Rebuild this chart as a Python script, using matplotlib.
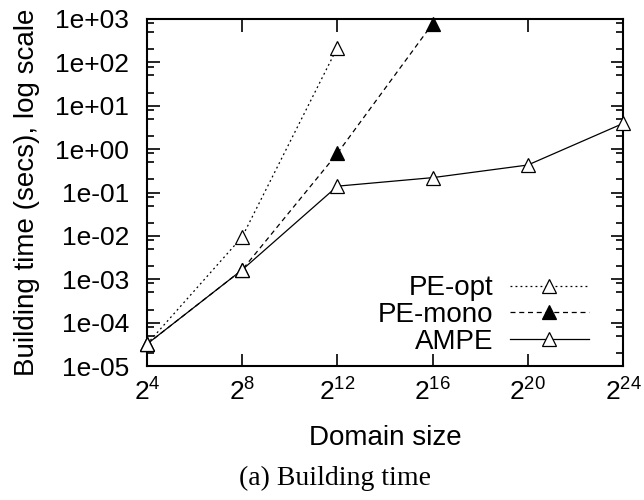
import matplotlib
matplotlib.use('Agg')
import matplotlib.pyplot as plt
from matplotlib.ticker import LogLocator, FixedLocator, FixedFormatter, NullFormatter

plt.rcParams['font.family'] = ['Liberation Sans', 'DejaVu Sans']
plt.rcParams['mathtext.default'] = 'regular'

# domain sizes (as powers of two) and building times in seconds
exp_opt = [4, 8, 12]
time_opt = [3.2e-5, 9.5e-3, 2.2e2]

exp_mono = [4, 8, 12, 16]
time_mono = [3.2e-5, 1.65e-3, 0.8, 780]

exp_ampe = [4, 8, 12, 16, 20, 24]
time_ampe = [3.2e-5, 1.65e-3, 0.14, 0.22, 0.43, 3.9]

xtick_exps = [4, 8, 12, 16, 20, 24]
ytick_labels = ['1e-05', '1e-04', '1e-03', '1e-02', '1e-01',
                '1e+00', '1e+01', '1e+02', '1e+03']

fig = plt.figure(figsize=(6.44, 5.0), dpi=100)
ax = fig.add_axes([147 / 644, 1 - 366 / 500, 476 / 644, 347 / 500])

ms = 10
common = dict(color='black', lw=0.9, marker='^', ms=ms, mec='black',
              mew=0.9, clip_on=False, zorder=3)
ax.plot([2 ** e for e in exp_opt], time_opt, linestyle=(0, (1.5, 2.5)),
        mfc='white', label='PE-opt', **common)
ax.plot([2 ** e for e in exp_mono], time_mono, linestyle=(0, (4, 3)),
        mfc='black', label='PE-mono', **common)
ax.plot([2 ** e for e in exp_ampe], time_ampe, linestyle='-',
        mfc='white', label='AMPE', **common)

ax.set_xscale('log', base=2)
ax.set_yscale('log')
ax.set_xlim(2 ** 4, 2 ** 24)
ax.set_ylim(1e-5, 1e3)

ax.xaxis.set_major_locator(FixedLocator([2 ** e for e in xtick_exps]))
ax.xaxis.set_major_formatter(FixedFormatter([f'$2^{{{e}}}$' for e in xtick_exps]))
ax.xaxis.set_minor_locator(FixedLocator([]))
ax.set_yticks([10.0 ** k for k in range(-5, 4)])
ax.set_yticklabels(ytick_labels)
ax.yaxis.set_minor_locator(LogLocator(base=10, subs=(2, 5, 8), numticks=20))
ax.yaxis.set_minor_formatter(NullFormatter())

ax.tick_params(which='both', direction='in', top=True, right=True,
               labelsize=19, width=1.2)
ax.tick_params(which='major', length=9)
ax.tick_params(which='minor', length=5)
ax.tick_params(axis='y', pad=13)
ax.tick_params(axis='x', pad=9)
for s in ax.spines.values():
    s.set_linewidth(1.5)

ax.set_xlabel('Domain size', fontsize=20, labelpad=14)
ax.set_ylabel('Building time (secs), log scale', fontsize=20, labelpad=11)

ax.legend(loc='lower right', frameon=False, markerfirst=False, fontsize=20,
          handlelength=2.85, labelspacing=0.03, borderaxespad=0.0,
          handletextpad=0.6, bbox_to_anchor=(0.952, 0.0))

fig.text(0.52, 0.044, '(a) Building time', ha='center', va='center',
         fontsize=20, family=['Liberation Serif', 'DejaVu Serif'])

fig.savefig('out.png', dpi=100)
